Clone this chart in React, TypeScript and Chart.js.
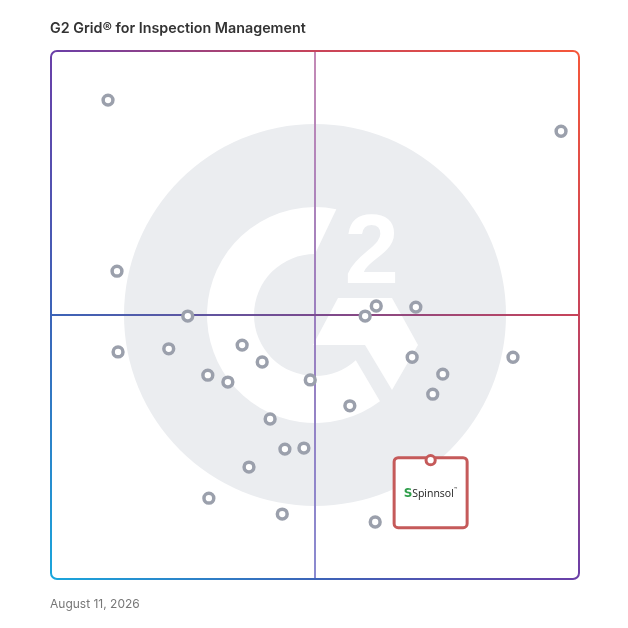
import { useEffect, useRef } from "react";
import { Chart, registerables } from "chart.js";

Chart.register(...registerables);

const TITLE = "G2 Grid® for Inspection Management";
const DATE_LABEL = "August 11, 2026";

// Satisfaction (x) and Market Presence (y), 0..100
const satisfaction = [10.8, 96.6, 12.5, 25.9, 12.7, 22.3, 36.2, 40.0, 29.7, 33.5, 49.1, 59.5, 61.6, 69.1, 68.4, 74.2, 72.3, 87.5, 56.6, 41.5, 44.3, 47.9, 37.5, 29.9, 43.8, 61.4];
const marketPresence = [90.7, 84.8, 58.3, 49.8, 43.0, 43.6, 44.3, 41.1, 38.6, 37.3, 37.7, 49.8, 51.7, 51.5, 42.0, 38.8, 35.0, 42.0, 32.8, 30.3, 24.6, 24.8, 21.2, 15.3, 12.3, 10.8];

const highlightNames = ["Spinnsol"];
const highlightSatisfaction = [71.9];
const highlightPresence = [22.5];

const borderStops = (g: CanvasGradient) => {
  g.addColorStop(0, "#1aa6dc");
  g.addColorStop(0.25, "#3c64b8");
  g.addColorStop(0.5, "#6a3fa8");
  g.addColorStop(0.75, "#c8445a");
  g.addColorStop(1, "#f5573a");
  return g;
};

const bgPlugin = {
  id: "g2bg",
  beforeDatasetsDraw(chart: any) {
    const { ctx, chartArea: a } = chart;
    const W = a.right - a.left;
    const cx = (a.left + a.right) / 2;
    const cy = (a.top + a.bottom) / 2;
    const s = W / 528;
    const d = Math.PI / 180;
    ctx.save();
    // big gray disc
    ctx.fillStyle = "#ebedf0";
    ctx.beginPath();
    ctx.arc(cx, cy, 191 * s, 0, Math.PI * 2);
    ctx.fill();
    // C shape
    ctx.fillStyle = "#ffffff";
    ctx.beginPath();
    ctx.arc(cx, cy, 108 * s, 53 * d, 281.4 * d, false);
    ctx.arc(cx, cy, 61 * s, 270 * d, 48 * d, true);
    ctx.closePath();
    ctx.fill();
    // chevron
    const pts = [[23, -17], [77, -17], [103, 30], [77, 75], [50, 30], [-2, 30]];
    ctx.beginPath();
    pts.forEach((p, i) => {
      const x = cx + p[0] * s;
      const y = cy + p[1] * s;
      if (i === 0) ctx.moveTo(x, y);
      else ctx.lineTo(x, y);
    });
    ctx.closePath();
    ctx.fill();
    // superscript 2
    ctx.font = `bold ${98 * s}px "Liberation Sans"`;
    ctx.textAlign = "center";
    ctx.textBaseline = "alphabetic";
    ctx.fillText("2", cx + 56.7 * s, cy - 31.7 * s);

    // vertical midline
    const gv = ctx.createLinearGradient(cx, a.top, cx, a.bottom);
    gv.addColorStop(0, "#c48ab6");
    gv.addColorStop(0.5, "#9b7fbf");
    gv.addColorStop(1, "#8a8ad0");
    ctx.strokeStyle = gv;
    ctx.lineWidth = 2;
    ctx.beginPath();
    ctx.moveTo(cx, a.top);
    ctx.lineTo(cx, a.bottom);
    ctx.stroke();
    // horizontal midline
    const gh = ctx.createLinearGradient(a.left, cy, a.right, cy);
    gh.addColorStop(0, "#3c64b8");
    gh.addColorStop(0.5, "#7a4a8e");
    gh.addColorStop(1, "#c8445a");
    ctx.strokeStyle = gh;
    ctx.beginPath();
    ctx.moveTo(a.left, cy);
    ctx.lineTo(a.right, cy);
    ctx.stroke();
    // border
    ctx.strokeStyle = borderStops(ctx.createLinearGradient(a.left, a.bottom, a.right, a.top));
    ctx.lineWidth = 2;
    ctx.beginPath();
    ctx.roundRect(a.left, a.top, W, a.bottom - a.top, 6);
    ctx.stroke();

    // highlight box
    const xs = chart.scales.x;
    const ys = chart.scales.y;
    highlightNames.forEach((name, i) => {
      const px = xs.getPixelForValue(highlightSatisfaction[i]);
      const py = ys.getPixelForValue(highlightPresence[i]);
      const bw = 73, bh = 70;
      ctx.fillStyle = "#ffffff";
      ctx.strokeStyle = "#c55a5a";
      ctx.lineWidth = 3;
      ctx.beginPath();
      ctx.roundRect(px - bw / 2, py - 2.5, bw, bh, 4);
      ctx.fill();
      ctx.stroke();
      const ly = py - 2.5 + bh / 2;
      ctx.font = 'bold 12px "DejaVu Sans"';
      ctx.fillStyle = "#2e9e4a";
      ctx.textAlign = "center";
      ctx.textBaseline = "middle";
      ctx.fillText("S", px - 22.5, ly + 1);
      ctx.font = '10.5px "Open Sans"';
      ctx.fillStyle = "#222222";
      ctx.textAlign = "left";
      ctx.fillText(name, px - 18.5, ly + 1);
      const tw = ctx.measureText(name).width;
      ctx.font = '4px "Open Sans"';
      ctx.fillText("™", px - 18 + tw, ly - 4);
    });
    ctx.restore();
  },
  afterDraw(chart: any) {
    const { ctx } = chart;
    ctx.save();
    ctx.textAlign = "left";
    ctx.textBaseline = "middle";
    ctx.fillStyle = "#333333";
    ctx.font = '600 14.3px Inter';
    ctx.fillText(TITLE, 50, 29);
    ctx.fillStyle = "#777777";
    ctx.font = '12px Inter';
    ctx.fillText(DATE_LABEL, 50, 604);
    ctx.restore();
  },
};

export default function App() {
  const ref = useRef<HTMLCanvasElement | null>(null);
  useEffect(() => {
    if (!ref.current) return;
    const chart = new Chart(ref.current, {
      type: "scatter",
      data: {
        datasets: [
          {
            data: satisfaction.map((x, i) => ({ x, y: marketPresence[i] })),
            pointRadius: 4.9,
            pointHoverRadius: 4.9,
            borderWidth: 3.5,
            pointBorderWidth: 3.5,
            borderColor: "#9ba0ac",
            backgroundColor: "#ffffff",
            clip: false,
          },
          {
            data: highlightSatisfaction.map((x, i) => ({ x, y: highlightPresence[i] })),
            pointRadius: 4.6,
            pointHoverRadius: 4.6,
            borderWidth: 3,
            pointBorderWidth: 3,
            borderColor: "#c55a5a",
            backgroundColor: "#ffffff",
            clip: false,
          },
        ],
      },
      options: {
        animation: false,
        responsive: true,
        maintainAspectRatio: false,
        events: [],
        layout: { padding: { left: 51, top: 51, right: 49, bottom: 49 } },
        scales: {
          x: { type: "linear", min: 0, max: 100, display: false },
          y: { type: "linear", min: 0, max: 100, display: false },
        },
        plugins: { legend: { display: false }, tooltip: { enabled: false }, title: { display: false } },
      },
      plugins: [bgPlugin],
    });
    return () => chart.destroy();
  }, []);
  return (
    <div style={{ position: "fixed", left: 0, top: 0, width: 628, height: 628, background: "#fff" }}>
      <canvas ref={ref} />
    </div>
  );
}
